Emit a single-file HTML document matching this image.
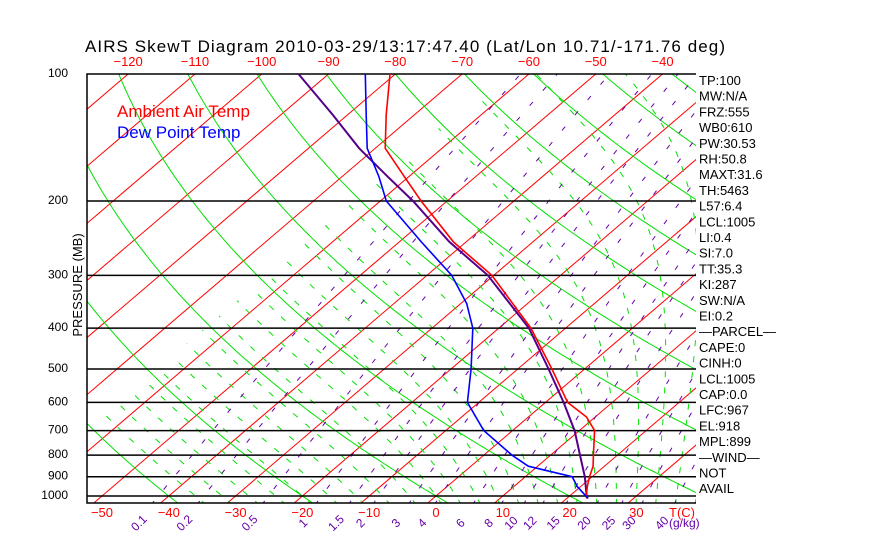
<!DOCTYPE html>
<html><head><meta charset="utf-8"><style>
body{margin:0;background:#fff;}
svg{display:block;font-family:"Liberation Sans",sans-serif;}
</style></head><body>
<svg id="c" width="870" height="560" xmlns="http://www.w3.org/2000/svg">
<defs><clipPath id="clip"><rect x="87" y="74" width="609" height="429"/></clipPath>
<clipPath id="clip2"><polygon id="warmPoly" points="0,0 1,0 1,1"/></clipPath></defs>
<text x="85" y="52" font-size="17" fill="#000" textLength="640">AIRS SkewT Diagram 2010-03-29/13:17:47.40 (Lat/Lon 10.71/-171.76 deg)</text>
<g id="bg" clip-path="url(#clip)"><g id="dash" clip-path="url(#clip2)"></g></g>
<g id="fg"></g>
<text x="117" y="117" font-size="17" fill="#ff0000">Ambient Air Temp</text>
<text x="117" y="138" font-size="17" fill="#0000ff">Dew Point Temp</text>
<text transform="translate(82,285) rotate(-90)" text-anchor="middle" font-size="13">PRESSURE (MB)</text>
</svg>
<script>
const pressureTicks=[100,200,300,400,500,600,700,800,900,1000];
const isobarLines=[200,300,400,500,600,700,800,900,1000];
const bottomTempTicks=[-50,-40,-30,-20,-10,0,10,20,30];
const topTempTicks=[-120,-110,-100,-90,-80,-70,-60,-50,-40];
const mixRatios=[0.1,0.2,0.5,1,1.5,2,3,4,6,8,10,12,15,20,25,30,40];
const dryThetas=[153.15,173.15,193.15,213.15,233.15,253.15,273.15,293.15,313.15,333.15,353.15,373.15,393.15,413.15,433.15,453.15,473.15,493.15,513.15];
const moistStarts=[-36,-32,-28,-24,-20,-16,-12,-8,-4,0,3,6,9,12,15,18,21,24,27,30,33,36,39,42,45];
const tempP=[100,125,150,175,200,250,300,400,500,600,650,700,800,850,900,950,1000,1013];
const tempT=[-80.8,-74.2,-68.5,-60.7,-53.9,-41.9,-30.3,-15.2,-4.9,3.3,8.7,12.3,16.4,18.3,19.6,21.0,22.5,23.1];
const dewP=[100,125,150,175,200,250,300,350,400,500,600,700,800,850,900,950,1013];
const dewT=[-84.5,-77.2,-71.2,-64.5,-59.1,-46.7,-36.3,-29.1,-23.9,-17,-11.7,-4.3,4.2,8.6,17,19.5,23.2];
const parcelP=[100,125,150,175,200,250,300,400,500,600,700,800,900,1013];
const parcelT=[-94.5,-82.2,-72.4,-63.2,-55.1,-42.5,-30.9,-15.5,-5.4,2.7,9.3,14.4,18.9,23];
const infoLabels=["TP:100","MW:N/A","FRZ:555","WB0:610","PW:30.53","RH:50.8","MAXT:31.6","TH:5463","L57:6.4","LCL:1005","LI:0.4","SI:7.0","TT:35.3","KI:287","SW:N/A","EI:0.2","\u2014PARCEL\u2014","CAPE:0","CINH:0","LCL:1005","CAP:0.0","LFC:967","EL:918","MPL:899","\u2014WIND\u2014"," NOT"," AVAIL"];
const dashMinT=-64;

const NS="http://www.w3.org/2000/svg";
function py(p){return 74+422*Math.log10(p/100);}
function tx(T,p){return 436+6.68*T+(496-py(p))*1.17;}
function mk(tag,attrs,parent){const e=document.createElementNS(NS,tag);for(const k in attrs)e.setAttribute(k,attrs[k]);parent.appendChild(e);return e;}
const bg=document.getElementById('bg'),fg=document.getElementById('fg'),dash=document.getElementById('dash');
function polyPts(ps,ts){return ps.map((p,i)=>tx(ts[i],p).toFixed(1)+','+py(p).toFixed(1)).join(' ');}
document.getElementById('warmPoly').setAttribute('points',
  tx(dashMinT,1100)+','+py(1100)+' '+tx(dashMinT,90)+','+py(90)+' 900,'+py(90)+' 900,'+py(1100));

for(let T=-170;T<=60;T+=10){
  const l=mk('line',{x1:tx(T,1050),y1:py(1050),x2:tx(T,100),y2:py(100),stroke:'#ff0000','stroke-width':1},bg);
  
  
}
const plist=[];for(let p=1050;p>=95;p-=5)plist.push(p);
dryThetas.forEach(th=>{
  const ts=plist.map(p=>th*Math.pow(p/1000,0.286)-273.15);
  const l=mk('polyline',{points:polyPts(plist,ts),fill:'none',stroke:'#00e000','stroke-width':1},bg);
  
  
});
bg.appendChild(dash);
function es(T){return 6.112*Math.exp(17.67*T/(T+243.5));}
function dTdp(T,p){const Tk=T+273.15,e=es(T),rs=0.622*e/(p-e),Lv=2.5e6,Rd=287,cp=1005;
  return (Rd*Tk+Lv*rs)/(p*(cp+Lv*Lv*rs*0.622/(Rd*Tk*Tk)));}
moistStarts.forEach(T0=>{
  const ps=[],ts=[];let T=T0;
  let Tb=T0;for(let q=1000;q<1050;q+=5){Tb+=dTdp(Tb,q)*5;}
  ps.push(1050);ts.push(Tb);
  for(let p=1000;p>=100;p-=5){ps.push(p);ts.push(T);T-=dTdp(T,p)*5;}
  const l=mk('polyline',{points:polyPts(ps,ts),fill:'none',stroke:'#00e000','stroke-width':1,'stroke-dasharray':'6,10'},dash);
  
  
});
function tdw(w,p){const e=w*p/(622+w),g=Math.log(e/6.112);return 243.5*g/(17.67-g);}
mixRatios.forEach(w=>{
  const ps=[],ts=[];for(let p=1050;p>=100;p-=10){ps.push(p);ts.push(tdw(w,p));}
  const l=mk('polyline',{points:polyPts(ps,ts),fill:'none',stroke:'#6600aa','stroke-width':1,'stroke-dasharray':'5,15'},dash);
  
  
  const x=tx(tdw(w,1050),1050)-12;
  const t=mk('text',{x:x,y:527,'font-size':12,fill:'#6600aa','text-anchor':'middle',transform:'rotate(-45 '+x+' 523)'},fg);
  t.textContent=String(w);
  
  
});
isobarLines.forEach(p=>{
  const l=mk('line',{x1:87,x2:696,y1:py(p),y2:py(p),stroke:'#000','stroke-width':1.5},fg);
  
  
});
const b=mk('polyline',{points:'696,74 87,74 87,503 696,503',fill:'none',stroke:'#000','stroke-width':1.5},fg);


pressureTicks.forEach(p=>{
  const t=mk('text',{x:68,y:py(p)+3,'font-size':12,'text-anchor':'end',fill:'#000'},fg);
  t.textContent=String(p);
  
  
});
bottomTempTicks.forEach(T=>{
  const t=mk('text',{x:tx(T,1000),y:517,'font-size':13,'text-anchor':'middle',fill:'#ff0000'},fg);
  t.textContent=String(T).replace('-','\u2212');
  
  
});
topTempTicks.forEach(T=>{
  const t=mk('text',{x:tx(T,100),y:66,'font-size':13,'text-anchor':'middle',fill:'#ff0000'},fg);
  t.textContent=String(T).replace('-','\u2212');
  
  
});
const tc=mk('text',{x:682,y:517,'font-size':13,fill:'#ff0000','text-anchor':'middle'},fg);
tc.textContent='T(C)';


const gk=mk('text',{x:669,y:527,'font-size':12,fill:'#6600aa'},fg);
gk.textContent='(g/kg)';


const pr=mk('polyline',{points:polyPts(parcelP,parcelT),fill:'none',stroke:'#550088','stroke-width':2},fg);


const tl=mk('polyline',{points:polyPts(tempP,tempT),fill:'none',stroke:'#ff0000','stroke-width':1.6},fg);


const dl=mk('polyline',{points:polyPts(dewP,dewT),fill:'none',stroke:'#0000ff','stroke-width':1.6},fg);


infoLabels.forEach((s,i)=>{
  const t=mk('text',{x:699,y:85+i*15.7,'font-size':13,fill:'#000'},fg);
  t.textContent=s;
  
  
});
</script>
</body></html>
